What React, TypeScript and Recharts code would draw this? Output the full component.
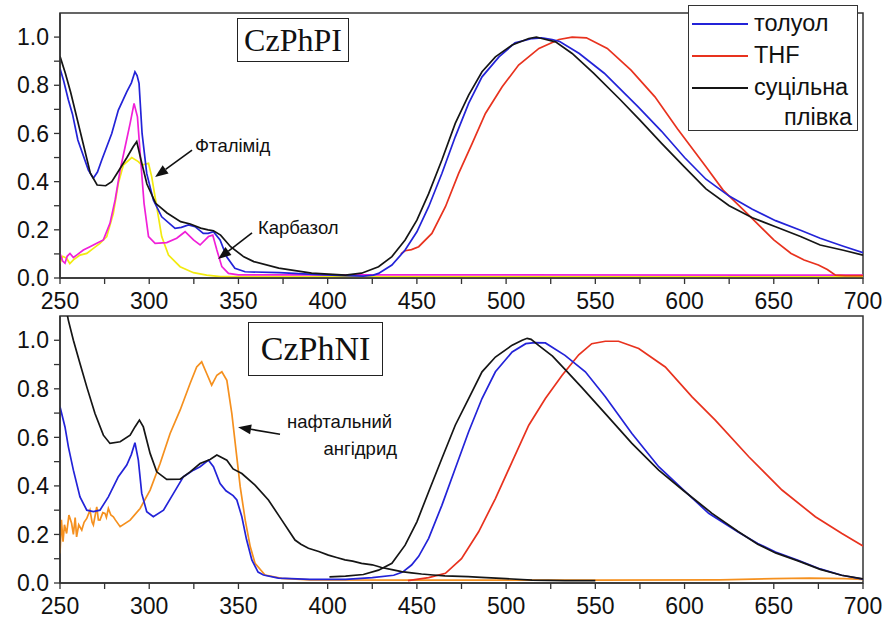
import React from 'react';
import { LineChart, Line, XAxis, YAxis, ReferenceArea, ReferenceLine } from 'recharts';

type P = [number, number];

const xTicks = [250, 275, 300, 325, 350, 375, 400, 425, 450, 475, 500, 525, 550, 575, 600, 625, 650, 675, 700];
const yTicks = [0, 0.1, 0.2, 0.3, 0.4, 0.5, 0.6, 0.7, 0.8, 0.9, 1.0];

const legendLabels = ['толуол', 'THF', 'суцільна', 'плівка'];

// ---- CzPhPI (top panel) ----
const topToluol: P[] = [[250,0.87],[252,0.82],[254.7,0.739],[257,0.68],[260,0.573],[265.9,0.448],[268.7,0.414],[271,0.44],[273.4,0.49],[279,0.6],[282.7,0.697],[287.4,0.773],[290,0.81],[292,0.856],[293.2,0.84],[294.3,0.808],[296,0.6],[298.6,0.434],[302.3,0.324],[307,0.254],[314.5,0.206],[318,0.21],[322,0.22],[325.7,0.213],[330.3,0.185],[333,0.185],[336,0.192],[339.7,0.158],[343.4,0.088],[348,0.04],[353.7,0.026],[373,0.022],[392,0.015],[410,0.01],[420,0.008],[425.6,0.012],[428.5,0.019],[436,0.054],[443.4,0.116],[450,0.192],[456.6,0.296],[464,0.434],[471.5,0.586],[479,0.725],[486.5,0.835],[496,0.918],[505,0.976],[514.6,0.994],[520,0.997],[525.8,0.99],[530,0.982],[541,0.932],[555,0.85],[574,0.71],[587,0.61],[600,0.5],[612,0.41],[625,0.34],[638,0.285],[651,0.238],[665,0.198],[676,0.165],[689,0.132],[700,0.105]];
const topTHF: P[] = [[441,0.1],[443.4,0.113],[447,0.118],[451,0.13],[458.4,0.185],[466,0.296],[473.4,0.434],[481,0.559],[488.4,0.683],[497.8,0.794],[507,0.884],[518.4,0.953],[529.6,0.99],[537,1.0],[545,0.997],[556.7,0.953],[570,0.863],[583.4,0.752],[596,0.62],[612,0.462],[621.6,0.365],[635,0.268],[650,0.158],[659.7,0.102],[667,0.075],[675,0.054],[680,0.035],[684.6,0.012],[690,0.01],[700,0.01]];
const topFilm: P[] = [[250,0.92],[253,0.85],[256,0.77],[261.6,0.6],[267,0.435],[270.8,0.386],[275.6,0.383],[279,0.4],[282,0.435],[287.5,0.5],[291,0.545],[293,0.566],[295.4,0.49],[298.7,0.39],[303.6,0.31],[310,0.27],[317.6,0.234],[323,0.224],[328.8,0.207],[333,0.2],[336,0.196],[340,0.178],[345.6,0.13],[353,0.088],[358.6,0.068],[372.6,0.041],[391,0.02],[410,0.012],[419,0.02],[428.5,0.047],[436,0.089],[443.4,0.158],[450,0.24],[456.6,0.35],[464,0.49],[471.5,0.642],[479,0.759],[486.5,0.856],[494,0.918],[503.4,0.967],[512.7,0.994],[517,1.0],[520,0.994],[527.7,0.98],[537,0.932],[549,0.85],[564,0.74],[575,0.655],[587,0.56],[600,0.46],[612,0.37],[625,0.3],[638,0.25],[651,0.213],[665,0.172],[676,0.137],[689,0.115],[700,0.095]];
const topCarbazole: P[] = [[250,0.102],[251.5,0.07],[252.8,0.061],[254,0.09],[255.6,0.102],[257.5,0.085],[259.3,0.095],[263.1,0.116],[266.8,0.13],[270.6,0.144],[274.3,0.158],[278,0.227],[280.9,0.324],[283.7,0.448],[286.5,0.545],[289.3,0.642],[291.5,0.725],[293.4,0.669],[295.2,0.49],[297.1,0.31],[299.6,0.172],[303.3,0.144],[309.8,0.147],[315.4,0.165],[320.1,0.192],[324.8,0.158],[328.5,0.137],[333.2,0.172],[335.6,0.178],[337.9,0.116],[340.7,0.047],[344.4,0.019],[350,0.013],[700,0.012]];
const topPhthalimide: P[] = [[250,0.061],[251.5,0.09],[253.7,0.082],[255.5,0.06],[257.5,0.075],[261.2,0.095],[265,0.102],[268.7,0.123],[272.4,0.144],[276.2,0.172],[279.9,0.268],[282.7,0.393],[285.5,0.469],[290.2,0.5],[293.9,0.483],[295.8,0.469],[299.6,0.476],[301.4,0.42],[304.2,0.296],[307,0.172],[310.8,0.095],[317.3,0.047],[324.8,0.022],[332.2,0.012],[340,0.006],[700,0.005]];

// ---- CzPhNI (bottom panel) ----
const botToluol: P[] = [[250,0.726],[252.8,0.643],[254.7,0.561],[257.5,0.465],[261.2,0.355],[265,0.3],[268.7,0.294],[272.4,0.3],[277.1,0.355],[282.7,0.438],[287.4,0.486],[290,0.53],[292,0.578],[293.9,0.506],[295.8,0.369],[298.6,0.294],[302.3,0.273],[308,0.3],[313.6,0.369],[319.2,0.438],[324.8,0.465],[328.5,0.479],[333.2,0.506],[336,0.479],[339.7,0.41],[343,0.38],[347,0.36],[349.1,0.342],[351.9,0.273],[354.5,0.18],[357.5,0.095],[361,0.045],[364,0.033],[372.4,0.02],[390,0.015],[410,0.015],[425,0.022],[437,0.032],[442,0.045],[447,0.074],[451,0.11],[456.6,0.184],[464,0.32],[471.5,0.472],[479,0.623],[486.5,0.76],[494,0.87],[503.4,0.952],[511,0.986],[516,0.99],[522,0.989],[533,0.938],[544.4,0.87],[555.6,0.767],[570.5,0.616],[585.5,0.479],[599.5,0.383],[613.5,0.287],[630,0.21],[641,0.163],[651,0.128],[664,0.092],[676,0.058],[688,0.032],[700,0.016]];
const botTHF: P[] = [[445,0.01],[456.6,0.022],[466,0.04],[475,0.1],[484.6,0.211],[494,0.348],[503.4,0.5],[512.7,0.65],[522,0.76],[531.4,0.856],[540.7,0.94],[548,0.986],[555.6,0.996],[563,0.996],[574.3,0.966],[589.2,0.89],[604.2,0.767],[617.2,0.671],[636,0.52],[654.6,0.383],[673.3,0.273],[688.2,0.204],[700,0.152]];
const botFilmAbs: P[] = [[250,1.25],[254.7,1.082],[257.5,1.0],[261.2,0.904],[265,0.808],[269.6,0.698],[274.3,0.609],[278,0.575],[283.7,0.582],[289.3,0.609],[292,0.643],[294.5,0.671],[296.7,0.643],[300.5,0.534],[304.2,0.458],[309.8,0.427],[317.3,0.428],[322.9,0.458],[328.5,0.492],[334.1,0.509],[337.9,0.527],[343.5,0.506],[347,0.47],[351.9,0.451],[359.3,0.403],[366.8,0.342],[374.3,0.259],[381.7,0.177],[385,0.16],[389.2,0.143],[395,0.13],[400.4,0.115],[405,0.105],[409.7,0.095],[414,0.09],[419,0.081],[425,0.075],[430.2,0.064],[436,0.055],[441.4,0.047],[447,0.042],[452.6,0.037],[459,0.033],[465.7,0.029],[478.7,0.026],[486,0.023],[500,0.018],[514.5,0.012],[533,0.01],[550,0.01]];
const botFilmEm: P[] = [[401,0.025],[410,0.028],[420,0.035],[428.5,0.053],[436,0.081],[443.4,0.156],[450,0.252],[456.6,0.376],[464,0.513],[471.5,0.65],[479,0.76],[486.5,0.87],[494,0.931],[503.4,0.98],[509,1.0],[511.8,1.008],[514,1.004],[518.2,0.979],[526,0.935],[533,0.88],[542.5,0.805],[555.6,0.698],[570.5,0.575],[585.5,0.465],[599.5,0.38],[615.4,0.287],[630,0.212],[641,0.16],[651,0.124],[664,0.09],[676,0.056],[688,0.032],[700,0.017]];
const botNaphAnh: P[] = [[250,0.122],[250.8,0.26],[251.7,0.17],[252.5,0.24],[253.7,0.204],[255,0.28],[256.5,0.246],[257.5,0.2],[258.5,0.27],[259.3,0.19],[260.5,0.24],[262.2,0.218],[263.5,0.25],[265,0.266],[266.8,0.3],[268,0.25],[268.7,0.239],[270,0.29],[270.6,0.314],[271.5,0.26],[272.4,0.259],[274,0.29],[275.2,0.287],[276,0.27],[277.1,0.307],[278.5,0.28],[279.9,0.273],[281,0.26],[283.7,0.232],[289.3,0.259],[294.9,0.307],[300.5,0.383],[306.1,0.492],[311.7,0.616],[317.3,0.712],[322.9,0.822],[326.6,0.89],[329.4,0.911],[332.2,0.863],[335,0.815],[337.9,0.856],[340.7,0.87],[343.5,0.835],[346.3,0.698],[348.2,0.575],[351,0.396],[353.8,0.259],[356.6,0.15],[359.3,0.081],[364.9,0.033],[374.3,0.019],[390,0.013],[450,0.012],[550,0.012],[620,0.013],[650,0.018],[670,0.02],[690,0.018],[700,0.015]];

const BLUE = '#2323d8';
const RED = '#e8321e';
const BLACK = '#151515';
const MAGENTA = '#f020d8';
const YELLOW = '#f2ea10';
const ORANGE = '#f5901e';

const toPts = (a: P[]) => a.map(([x, y]) => ({ x, y }));
const fmtX = (v: number) => (v % 50 === 0 ? String(v) : '');
const fmtY = (v: number) => (Math.round(v * 10) % 2 === 0 ? v.toFixed(1) : '');

const SANS = '"Liberation Sans", Arial, sans-serif';
const SERIF = '"Liberation Serif", "Times New Roman", serif';
const xTickStyle = { fontSize: 23, fill: '#111', fontFamily: SANS };
const yTickStyle = { fontSize: 23, fill: '#111', fontFamily: SANS };

const arrowShape = (lines: { t: string; dx: number; dy: number; anchor?: string }[]) => (props: any) => {
  const { x1, y1, x2, y2 } = props;
  const ang = Math.atan2(y2 - y1, x2 - x1);
  const L = 13, W = 5;
  const bx = x2 - L * Math.cos(ang);
  const by = y2 - L * Math.sin(ang);
  const p1 = `${bx + W * Math.sin(ang)},${by - W * Math.cos(ang)}`;
  const p2 = `${bx - W * Math.sin(ang)},${by + W * Math.cos(ang)}`;
  return (
    <g>
      <line x1={x1} y1={y1} x2={bx} y2={by} stroke="#111" strokeWidth={1.6} />
      <polygon points={`${x2},${y2} ${p1} ${p2}`} fill="#111" />
      {lines.map((l, i) => (
        <text key={i} x={x1 + l.dx} y={y1 + l.dy} fontSize={18.5} fontFamily={SANS} fill="#111"
          textAnchor={(l.anchor as any) || 'start'} dominantBaseline="middle">{l.t}</text>
      ))}
    </g>
  );
};

const LegendBox = () => (
  <div style={{ position: 'absolute', left: 688, top: 5, width: 168, height: 124, border: '1.5px solid #333', background: '#fff', fontFamily: SANS, fontSize: 23.5, color: '#111' }}>
    {[BLUE, RED, BLACK].map((c, i) => (
      <div key={i} style={{ position: 'absolute', left: 3, top: 17 + i * 32, width: 56, height: 0, borderTop: `2px solid ${c}` }} />
    ))}
    {legendLabels.slice(0, 3).map((t, i) => (
      <div key={t} style={{ position: 'absolute', left: 65, top: 3 + i * 32, lineHeight: '28px' }}>{t}</div>
    ))}
    <div style={{ position: 'absolute', right: 5, top: 97, lineHeight: '28px' }}>{legendLabels[3]}</div>
  </div>
);

const Panel = ({ series, height, top, xh, annotations }: any) => (
  <LineChart width={883} height={height} margin={{ top, right: 20, bottom: 0, left: 0 }} style={{ fontFamily: SANS }}>
    <XAxis dataKey="x" type="number" domain={[250, 700]} ticks={xTicks} tickFormatter={fmtX} interval={0}
      allowDataOverflow height={xh} tick={xTickStyle} tickSize={6} tickMargin={9}
      axisLine={{ stroke: '#333', strokeWidth: 1.5 }} tickLine={{ stroke: '#333', strokeWidth: 1.3 }} />
    <YAxis type="number" domain={[0, 1.1]} ticks={yTicks} tickFormatter={fmtY} interval={0} allowDataOverflow
      width={60} tick={yTickStyle} tickSize={6} tickMargin={5}
      axisLine={{ stroke: '#333', strokeWidth: 1.5 }} tickLine={{ stroke: '#333', strokeWidth: 1.3 }} />
    <ReferenceArea x1={250} x2={700} y1={0} y2={1.1} fill="none" stroke="#333" strokeWidth={1.5} fillOpacity={0} />
    {series.map((s: any, i: number) => (
      <Line key={i} data={toPts(s.d)} dataKey="y" type="linear" stroke={s.c} strokeWidth={1.7} dot={false}
        isAnimationActive={false} name={s.n} legendType="none" />
    ))}
    {annotations.map((a: any, i: number) => (
      <ReferenceLine key={'a' + i} segment={[{ x: a.tail[0], y: a.tail[1] }, { x: a.head[0], y: a.head[1] }]}
        shape={arrowShape(a.lines)} />
    ))}
  </LineChart>
);

export default function App() {
  const topSeries = [
    { d: topPhthalimide, c: YELLOW, n: 'Фталімід' },
    { d: topCarbazole, c: MAGENTA, n: 'Карбазол' },
    { d: topTHF, c: RED, n: 'THF' },
    { d: topToluol, c: BLUE, n: 'толуол' },
    { d: topFilm, c: BLACK, n: 'суцільна плівка' },
  ];
  const botSeries = [
    { d: botNaphAnh, c: ORANGE, n: 'нафтальний ангідрид' },
    { d: botTHF, c: RED, n: 'THF' },
    { d: botToluol, c: BLUE, n: 'толуол' },
    { d: botFilmAbs, c: BLACK, n: 'суцільна плівка' },
    { d: botFilmEm, c: BLACK, n: 'суцільна плівка ' },
  ];
  const topAnn = [
    { tail: [324, 0.531], head: [303.3, 0.419], lines: [{ t: 'Фталімід', dx: 3, dy: -3 }] },
    { tail: [357.6, 0.187], head: [338.6, 0.079], lines: [{ t: 'Карбазол', dx: 6, dy: -4 }] },
  ];
  const botAnn = [
    { tail: [373.3, 0.613], head: [349.8, 0.642], lines: [{ t: 'нафтальний', dx: 7, dy: -11 }, { t: 'ангідрид', dx: 117, dy: 16, anchor: 'end' }] },
  ];
  return (
    <div style={{ position: 'absolute', left: 0, top: 0, width: 883, height: 626, background: '#fff', overflow: 'hidden' }}>
      <div style={{ position: 'absolute', left: 0, top: 0 }}>
        <Panel series={topSeries} height={324} top={13} xh={46} annotations={topAnn} />
      </div>
      <div style={{ position: 'absolute', left: 0, top: 312 }}>
        <Panel series={botSeries} height={314} top={4} xh={43} annotations={botAnn} />
      </div>
      <LegendBox />
      <div style={{ position: 'absolute', left: 237, top: 18, width: 110, height: 42, border: '1.5px solid #222', background: '#fff',
        fontFamily: SERIF, fontSize: 32, lineHeight: '42px', textAlign: 'center', color: '#111' }}>CzPhPI</div>
      <div style={{ position: 'absolute', left: 248, top: 322, width: 133, height: 52, border: '1.5px solid #222', background: '#fff',
        fontFamily: SERIF, fontSize: 34, lineHeight: '52px', textAlign: 'center', color: '#111' }}>CzPhNI</div>
    </div>
  );
}
